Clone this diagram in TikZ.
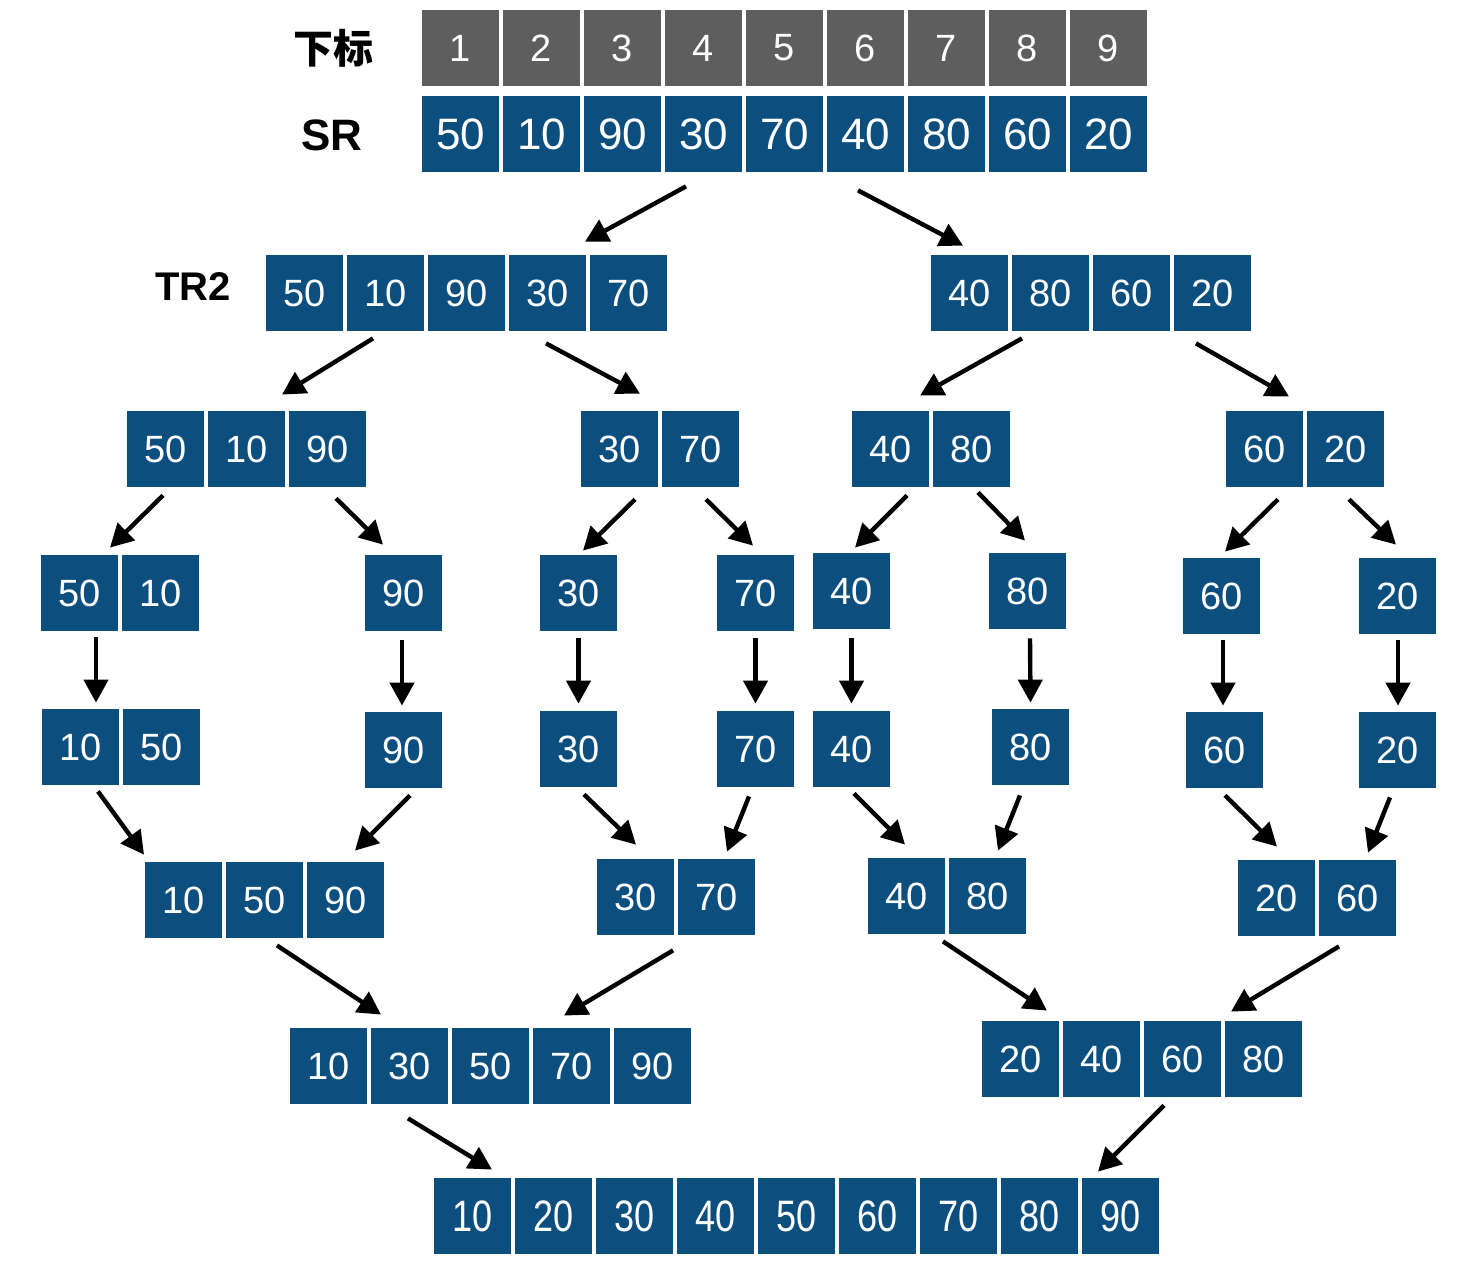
\documentclass[tikz,border=0pt]{standalone}
\usepackage{fontspec}
\setmainfont{Liberation Sans}
\newfontfamily\cjkfont{Noto Sans CJK SC}
\newfontfamily\condfont[FakeStretch=0.82]{Liberation Sans}
\usepackage{xcolor}
\usetikzlibrary{arrows.meta, calc}
\definecolor{cellblue}{HTML}{0C4F7F}
\definecolor{idxgray}{HTML}{5E5E5E}

% one row of cells: [extra style]{name}{left x}{centre y}{values}
\newcommand{\cellrow}[5][]{%
  \foreach \v [count=\i] in {#5}
    \node[cell, #1] (#2-\i) at ({#3+38.5+81*(\i-1)}, #4) {\v};%
}

\begin{document}
\begin{tikzpicture}[
    x=0.5pt, y=-0.5pt,
    cell/.style={rectangle, fill=cellblue, text=white, inner sep=0pt,
        minimum width=38.5pt, minimum height=38pt,
        font=\fontsize{19}{22}\selectfont},
    idxcell/.style={fill=idxgray},
    bigcell/.style={font=\fontsize{22}{26}\selectfont},
    lastcell/.style={font=\condfont\fontsize{22}{26}\selectfont},
    lbl/.style={text=black, font=\bfseries\fontsize{21}{24}\selectfont},
    arr/.style={-{Triangle[length=11.5pt, width=12pt]}, line width=2.2pt, black}
]
    \useasboundingbox (0,0) rectangle (1474,1268);

    % labels
    \node[lbl, font=\cjkfont\bfseries\fontsize{20}{24}\selectfont] (lblidx) at (333,48) {下标};
    \node[lbl, font=\bfseries\fontsize{22}{26}\selectfont] (lblsr) at (332,135) {SR};
    \node[lbl, font=\bfseries\fontsize{20}{24}\selectfont] (lbltr) at (193,287) {TR2};

    % index row and source row
    \cellrow[idxcell]{idx}{422}{48}{1,2,3,4,5,6,7,8,9}
    \cellrow[bigcell]{sr}{422}{134}{50,10,90,30,70,40,80,60,20}

    % split: level 1
    \cellrow{l1a}{266}{293}{50,10,90,30,70}
    \cellrow{l1b}{931}{293}{40,80,60,20}

    % split: level 2
    \cellrow{l2a}{127}{449}{50,10,90}
    \cellrow{l2b}{581}{449}{30,70}
    \cellrow{l2c}{852}{449}{40,80}
    \cellrow{l2d}{1226}{449}{60,20}

    % split: level 3
    \cellrow{l3a}{41}{593}{50,10}
    \cellrow{l3b}{365}{593}{90}
    \cellrow{l3c}{540}{593}{30}
    \cellrow{l3d}{717}{593}{70}
    \cellrow{l3e}{813}{591}{40}
    \cellrow{l3f}{989}{591}{80}
    \cellrow{l3g}{1183}{596}{60}
    \cellrow{l3h}{1359}{596}{20}

    % sorted pieces
    \cellrow{l4a}{42}{747}{10,50}
    \cellrow{l4b}{365}{750}{90}
    \cellrow{l4c}{540}{749}{30}
    \cellrow{l4d}{717}{749}{70}
    \cellrow{l4e}{813}{749}{40}
    \cellrow{l4f}{992}{747}{80}
    \cellrow{l4g}{1186}{750}{60}
    \cellrow{l4h}{1359}{750}{20}

    % merge: level 1
    \cellrow{l5a}{145}{900}{10,50,90}
    \cellrow{l5b}{597}{897}{30,70}
    \cellrow{l5c}{868}{896}{40,80}
    \cellrow{l5d}{1238}{898}{20,60}

    % merge: level 2
    \cellrow{l6a}{290}{1066}{10,30,50,70,90}
    \cellrow{l6b}{982}{1059}{20,40,60,80}

    % result
    \cellrow[lastcell]{res}{434}{1216}{10,20,30,40,50,60,70,80,90}

    % split arrows
    \foreach \a/\ax/\ay/\b/\bx/\by in {
        sr-4/-17.5/14/l1a-4/37.5/-13, sr-6/-7.5/18/l1b-1/-6.5/-9,
        l1a-2/-12.5/7/l2a-2/35.5/-16, l1a-4/-1.5/12/l2b-1/20.5/-17,
        l1b-2/-28.5/7/l2c-1/29.5/-15, l1b-4/-16.5/12/l2d-1/24.5/-14,
        l2a-1/-2.5/8/l3a-1/30.5/-7, l2a-3/8.5/11/l3b-1/-20.5/-10,
        l2b-1/15.5/12/l3c-1/4.5/-4, l2b-2/5.5/12/l3d-1/-2.5/-9,
        l2c-1/16.5/8/l3e-1/3.5/-5, l2c-2/6.5/5/l3f-1/-2.5/-12,
        l2d-1/13.5/12/l3g-1/3.5/-6, l2d-2/3.5/12/l3h-1/-1.5/-13}
        \draw[arr] ($(\a.south)+(\ax,\ay)$) -- ($(\b.north)+(\bx,\by)$);

    % sort arrows
    \foreach \a/\ax/\ay/\b/\bx/\by in {
        l3a-1/16.5/6/l4a-1/15.5/-6, l3b-1/-1.5/9/l4b-1/-1.5/-6,
        l3c-1/0/7/l4c-1/0/-7, l3d-1/0/7/l4d-1/0/-7,
        l3e-1/0/9/l4e-1/0/-7, l3f-1/2.5/9/l4f-1/0/-6,
        l3g-1/1.5/6/l4g-1/-1.5/-6, l3h-1/0.5/6/l4h-1/0.5/-6}
        \draw[arr] ($(\a.south)+(\ax,\ay)$) -- ($(\b.north)+(\bx,\by)$);

    % merge arrows
    \foreach \a/\ax/\ay/\b/\bx/\by in {
        l4a-1/17.5/6/l5a-1/-39.5/-7, l4b-1/6.5/7/l5a-3/9.5/-11,
        l4c-1/5.5/7/l5b-1/0.5/-14, l4d-1/-6.5/9/l5b-2/10.5/-7,
        l4e-1/2.5/6/l5c-1/-1.5/-13, l4f-1/-10.5/10/l5c-2/10.5/-7,
        l4g-1/0.5/7/l5d-1/0.5/-13, l4h-1/-7.5/9/l5d-2/10.5/-7,
        l5a-2/12.5/7/l6a-2/-28.5/-13, l5b-1/37.5/15/l6a-4/-7.5/-12,
        l5c-1/36.5/7/l6b-1/26.5/-10, l5d-2/-18.5/10/l6b-4/-32.5/-9,
        l6a-2/-1.5/14/res-1/19.5/-8, l6b-3/-18.5/8/res-9/-22.5/-6}
        \draw[arr] ($(\a.south)+(\ax,\ay)$) -- ($(\b.north)+(\bx,\by)$);
\end{tikzpicture}
\end{document}
